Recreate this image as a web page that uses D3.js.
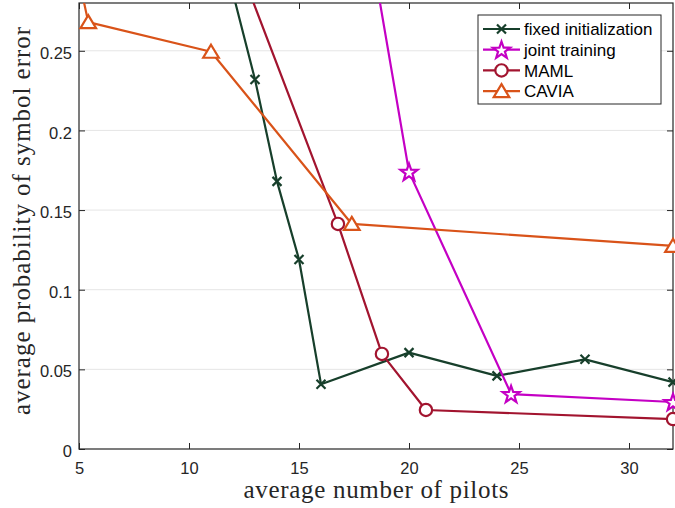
<!DOCTYPE html>
<html>
<head>
<meta charset="utf-8">
<script src="https://cdnjs.cloudflare.com/ajax/libs/d3/7.8.5/d3.min.js"></script>
<style>
  html, body { margin: 0; padding: 0; background: #fff; }
</style>
</head>
<body>
<div id="chart"></div>
<script>
// data
var pilotsFixed = [11, 13, 14, 15, 16, 20, 24, 28, 32];
var errFixed = [0.34, 0.232, 0.168, 0.119, 0.0407, 0.0605, 0.0459, 0.0563, 0.042];

var pilotsJoint = [18, 20, 24.64, 32];
var errJoint = [0.335, 0.174, 0.0345, 0.0295];

var pilotsMaml = [12.77, 16.77, 18.77, 20.77, 32];
var errMaml = [0.286, 0.1413, 0.0597, 0.0245, 0.0188];

var pilotsCavia = [5, 5.42, 11, 17.4, 32];
var errCavia = [0.295, 0.268, 0.2494, 0.1413, 0.1275];

var seriesNames = ['fixed initialization', 'joint training', 'MAML', 'CAVIA'];
var xTicks = [5, 10, 15, 20, 25, 30];
var yTicks = [0, 0.05, 0.1, 0.15, 0.2, 0.25];
var yTickLabels = ['0', '0.05', '0.1', '0.15', '0.2', '0.25'];

var attrs = {
    svgWidth: 675,
    svgHeight: 508,
    marginTop: 3,
    marginLeft: 79,
    marginRight: 2,
    marginBottom: 59,
    xDomain: [5, 32],
    yDomain: [0, 0.28],
    axisColor: '#262626',
    gridColor: '#e5e5e5',
    tickFont: '"Liberation Sans", Arial, Helvetica, sans-serif',
    labelFont: '"Liberation Serif", "Times New Roman", serif',
    colors: ['#173f2b', '#c400c4', '#a2142f', '#d95319'],
    markers: ['x', 'star', 'circle', 'triangle']
};

var calc = {};
calc.chartWidth = attrs.svgWidth - attrs.marginLeft - attrs.marginRight;
calc.chartHeight = attrs.svgHeight - attrs.marginTop - attrs.marginBottom;

var series = [
    { name: seriesNames[0], x: pilotsFixed, y: errFixed },
    { name: seriesNames[1], x: pilotsJoint, y: errJoint },
    { name: seriesNames[2], x: pilotsMaml, y: errMaml },
    { name: seriesNames[3], x: pilotsCavia, y: errCavia }
];
series.forEach(function (s, i) {
    s.color = attrs.colors[i];
    s.marker = attrs.markers[i];
    s.points = s.x.map(function (d, j) { return { x: d, y: s.y[j] }; });
});

var x = d3.scaleLinear().domain(attrs.xDomain).range([0, calc.chartWidth]);
var y = d3.scaleLinear().domain(attrs.yDomain).range([calc.chartHeight, 0]);

var svg = d3.select('#chart').append('svg')
    .attr('width', attrs.svgWidth)
    .attr('height', attrs.svgHeight)
    .style('display', 'block');

svg.append('defs').append('clipPath').attr('id', 'plot-clip')
    .append('rect')
    .attr('width', calc.chartWidth)
    .attr('height', calc.chartHeight);

var chart = svg.append('g')
    .attr('transform', 'translate(' + attrs.marginLeft + ',' + attrs.marginTop + ')');

// horizontal grid
chart.append('g').selectAll('line').data(yTicks.slice(1)).enter().append('line')
    .attr('x1', 0).attr('x2', calc.chartWidth)
    .attr('y1', function (d) { return y(d); })
    .attr('y2', function (d) { return y(d); })
    .attr('stroke', attrs.gridColor)
    .attr('stroke-width', 1);

// axes, ticks inward (matlab box style)
var tickLen = 6;
var xAxis = chart.append('g')
    .attr('transform', 'translate(0,' + calc.chartHeight + ')')
    .call(d3.axisBottom(x).tickValues(xTicks).tickSizeInner(-tickLen).tickSizeOuter(0).tickPadding(13));
var xAxisTop = chart.append('g')
    .call(d3.axisTop(x).tickValues(xTicks).tickSizeInner(-tickLen).tickSizeOuter(0).tickFormat(''));
var yAxis = chart.append('g')
    .call(d3.axisLeft(y).tickValues(yTicks).tickSizeInner(-tickLen).tickSizeOuter(0)
        .tickPadding(7)
        .tickFormat(function (d, i) { return yTickLabels[i]; }));
var yAxisRight = chart.append('g')
    .attr('transform', 'translate(' + calc.chartWidth + ',0)')
    .call(d3.axisRight(y).tickValues(yTicks).tickSizeInner(-tickLen).tickSizeOuter(0).tickFormat(''));

[xAxis, xAxisTop, yAxis, yAxisRight].forEach(function (g) {
    g.select('.domain').remove();
    g.selectAll('line').attr('stroke', attrs.axisColor).attr('stroke-width', 1);
    g.selectAll('text')
        .attr('fill', attrs.axisColor)
        .style('font-family', attrs.tickFont)
        .style('font-size', '16.5px');
});
yAxis.selectAll('text').attr('dy', '0.46em');

// box
chart.append('rect')
    .attr('width', calc.chartWidth)
    .attr('height', calc.chartHeight)
    .attr('fill', 'none')
    .attr('stroke', attrs.axisColor)
    .attr('stroke-width', 1.2);

// marker shapes
function markerPath(type) {
    if (type === 'x') return 'M-4.5,-4.5L4.5,4.5M-4.5,4.5L4.5,-4.5';
    if (type === 'circle') return d3.symbol(d3.symbolCircle, 38 * Math.PI)();
    if (type === 'triangle') return 'M0,-7L7.8,6L-7.8,6Z';
    if (type === 'star') {
        var pts = [];
        for (var k = 0; k < 10; k++) {
            var r = k % 2 === 0 ? 9 : 3.6;
            var a = -Math.PI / 2 + k * Math.PI / 5;
            pts.push([r * Math.cos(a), r * Math.sin(a) + 0.8]);
        }
        return 'M' + pts.join('L') + 'Z';
    }
}

var line = d3.line()
    .x(function (d) { return x(d.x); })
    .y(function (d) { return y(d.y); });

var plot = chart.append('g');

series.forEach(function (s) {
    var g = plot.append('g');
    g.append('path')
        .datum(s.points)
        .attr('clip-path', 'url(#plot-clip)')
        .attr('d', line)
        .attr('fill', 'none')
        .attr('stroke', s.color)
        .attr('stroke-width', 2.2)
        .attr('stroke-linejoin', 'round');

    g.selectAll('.marker')
        .data(s.points.filter(function (d) { return d.y <= attrs.yDomain[1] && d.x >= attrs.xDomain[0]; }))
        .enter().append('path')
        .attr('class', 'marker')
        .attr('transform', function (d) { return 'translate(' + x(d.x) + ',' + y(d.y) + ')'; })
        .attr('d', markerPath(s.marker))
        .attr('fill', s.marker === 'x' ? 'none' : '#fff')
        .attr('stroke', s.color)
        .attr('stroke-width', 2.2)
        .attr('stroke-linejoin', 'miter');
});

// legend
var legend = svg.append('g').attr('transform', 'translate(478,15)');
legend.append('rect')
    .attr('width', 183)
    .attr('height', 89)
    .attr('fill', '#fff')
    .attr('stroke', attrs.axisColor)
    .attr('stroke-width', 1);

var items = legend.selectAll('.item').data(series).enter().append('g')
    .attr('class', 'item')
    .attr('transform', function (d, i) { return 'translate(0,' + (14 + i * 20.7) + ')'; });
items.append('line')
    .attr('x1', 5).attr('x2', 42)
    .attr('stroke', function (d) { return d.color; })
    .attr('stroke-width', 2.2);
items.append('path')
    .attr('transform', 'translate(23.5,0)')
    .attr('d', function (d) { return markerPath(d.marker); })
    .attr('fill', function (d) { return d.marker === 'x' ? 'none' : '#fff'; })
    .attr('stroke', function (d) { return d.color; })
    .attr('stroke-width', 2.2);
items.append('text')
    .attr('x', 46)
    .attr('dy', '0.36em')
    .attr('fill', '#000')
    .style('font-family', attrs.tickFont)
    .style('font-size', '17px')
    .text(function (d) { return d.name; });

// axis labels
svg.append('text')
    .attr('x', attrs.marginLeft + calc.chartWidth / 2)
    .attr('y', 497.5)
    .attr('text-anchor', 'middle')
    .attr('textLength', 265)
    .attr('lengthAdjust', 'spacing')
    .attr('fill', attrs.axisColor)
    .style('font-family', attrs.labelFont)
    .style('font-size', '25px')
    .text('average number of pilots');

svg.append('text')
    .attr('transform', 'translate(30,221) rotate(-90)')
    .attr('text-anchor', 'middle')
    .attr('textLength', 388)
    .attr('lengthAdjust', 'spacing')
    .attr('fill', attrs.axisColor)
    .style('font-family', attrs.labelFont)
    .style('font-size', '25px')
    .text('average probability of symbol error');
</script>
</body>
</html>
